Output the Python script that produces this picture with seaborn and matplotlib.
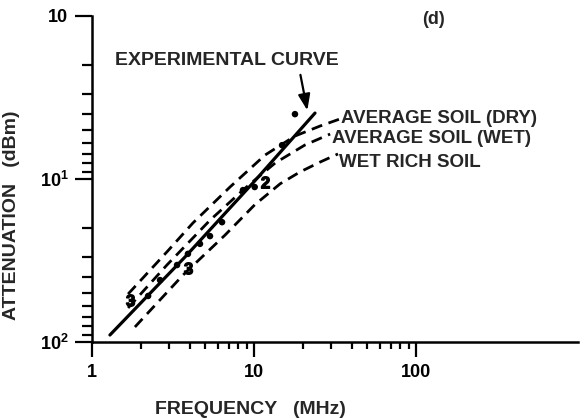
import numpy as np
import pandas as pd
import matplotlib
matplotlib.use("Agg")
import matplotlib.pyplot as plt
from matplotlib.ticker import FixedLocator, NullFormatter
import seaborn as sns

# --- data -------------------------------------------------------------
# frequency in MHz, attenuation on the inverted log scale
dry_freq = [1.67, 2.90, 4.20, 7.11, 11.7, 17.9, 25.6, 34.0]
dry_att = [50.8, 28.0, 18.6, 11.2, 7.13, 5.45, 4.73, 4.28]

wet_freq = [1.67, 2.90, 5.35, 8.80, 13.5, 20.6, 29.5]
wet_att = [61.8, 33.7, 17.9, 11.4, 7.98, 6.19, 5.30]

rich_freq = [1.84, 3.65, 6.62, 10.1, 14.5, 19.2, 25.6, 33.0]
rich_att = [80.9, 38.8, 22.1, 14.4, 10.7, 9.06, 7.87, 7.02]

exp_freq = [1.29, 3.75, 10.0, 23.8]
exp_att = [90.6, 30.1, 10.4, 3.94]

meas_freq = [2.22, 2.63, 3.35, 3.91, 4.64, 5.35, 6.35, 8.55, 10.1, 14.9, 17.9]
meas_att = [52.2, 41.7, 33.7, 28.8, 25.0, 22.4, 18.4, 11.7, 11.2, 6.2, 4.0]

# numbered stations
station_freq = [1.72, 3.91, 11.7]
station_att = [55.2, 35.2, 10.4]
station_id = ["3", "3", "2"]

x_ticks = [1, 10, 100]
x_tick_labels = ["1", "10", "100"]
y_ticks = [1, 10, 100]
y_tick_labels = ["10", "10$^{\\mathbf{1}}$", "10$^{\\mathbf{2}}$"]

curve_labels = ["AVERAGE SOIL (DRY)", "AVERAGE SOIL (WET)", "WET RICH SOIL"]

# --- style ------------------------------------------------------------
sns.set_theme(style="white")
plt.rcParams["font.family"] = ["Liberation Sans", "DejaVu Sans"]
plt.rcParams["font.weight"] = "bold"
plt.rcParams["mathtext.fontset"] = "custom"
plt.rcParams["mathtext.rm"] = "Liberation Sans:bold"
plt.rcParams["mathtext.bf"] = "Liberation Sans:bold"
plt.rcParams["mathtext.default"] = "bf"

fig = plt.figure(figsize=(5.88, 4.18), dpi=100)
ax = fig.add_axes([92 / 588, 76 / 418, 486 / 588, 326 / 418])

dash = (0, (4.0, 2.4))
for fx, ay in [(dry_freq, dry_att), (wet_freq, wet_att), (rich_freq, rich_att)]:
    sns.lineplot(x=fx, y=ay, ax=ax, color="black", lw=2.0, linestyle=dash,
                 sort=False, estimator=None)

sns.lineplot(x=exp_freq, y=exp_att, ax=ax, color="black", lw=2.3,
             sort=False, estimator=None)

sns.scatterplot(x=meas_freq, y=meas_att, ax=ax, color="black", s=22,
                edgecolor="none", zorder=4)
for f, a, s in zip(station_freq, station_att, station_id):
    ax.scatter([f], [a], marker=f"${s}$", s=70, color="black", zorder=4)

ax.set_xscale("log")
ax.set_yscale("log")
ax.set_xlim(1, 1000)
ax.set_ylim(100, 1)

ax.xaxis.set_major_locator(FixedLocator(x_ticks))
ax.set_xticklabels(x_tick_labels)
ax.xaxis.set_minor_locator(FixedLocator(
    [k * d for d in (1, 10) for k in range(2, 10)]))
ax.xaxis.set_minor_formatter(NullFormatter())

ax.yaxis.set_major_locator(FixedLocator(y_ticks))
ax.set_yticklabels(y_tick_labels)
ax.yaxis.set_minor_locator(FixedLocator(
    [k * d for d in (1, 10) for k in range(2, 10)]))
ax.yaxis.set_minor_formatter(NullFormatter())

for side in ("top", "right"):
    ax.spines[side].set_visible(False)
for side in ("left", "bottom"):
    ax.spines[side].set_linewidth(1.8)
    ax.spines[side].set_color("black")

ax.tick_params(axis="both", which="both", direction="out", color="black",
               width=1.6, labelsize=13, labelcolor="black",
               bottom=True, left=True, top=False, right=False)
ax.tick_params(axis="x", which="major", length=11, pad=5)
ax.tick_params(axis="x", which="minor", length=5)
ax.tick_params(axis="y", which="major", length=12, pad=5)
ax.tick_params(axis="y", which="minor", length=7)

ax.set_xlabel("FREQUENCY   (MHz)", fontsize=14, fontweight="bold")
ax.xaxis.set_label_coords(0.327, -0.181)
ax.set_ylabel("ATTENUATION   (dBm)", fontsize=14, fontweight="bold")
ax.yaxis.set_label_coords(-0.148, 0.39)

# curve labels at the curve ends
ends = [(dry_freq[-1], dry_att[-1], 0), (wet_freq[-1], wet_att[-1], -3),
        (rich_freq[-1], rich_att[-1], -6)]
for (f, a, dy), text in zip(ends, curve_labels):
    ax.annotate(text, xy=(f, a), xytext=(1, dy), textcoords="offset points",
                ha="left", va="center", fontsize=13.5, fontweight="bold")

ax.text(0.047, 0.862, "EXPERIMENTAL CURVE", transform=ax.transAxes,
        ha="left", va="center", fontsize=14, fontweight="bold")
ax.annotate("", xy=(21.5, 3.94), xytext=(19.2, 2.21),
            arrowprops=dict(arrowstyle="-|>,head_length=0.8,head_width=0.3",
                            color="black", lw=1.6))

ax.text(0.702, 0.99, "(d)", transform=ax.transAxes, ha="center", va="center",
        fontsize=13, fontweight="bold")

fig.savefig("out.png", dpi=100, facecolor="white")
